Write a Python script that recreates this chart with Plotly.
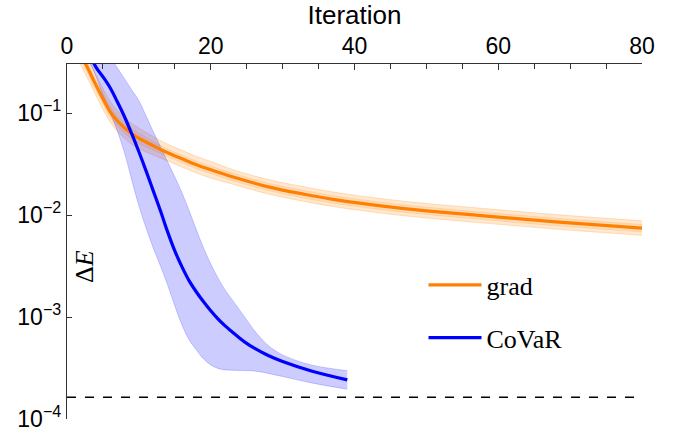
import plotly.graph_objects as go

# ---- data ----
grad_iter = [1, 2, 3, 4, 5, 6, 7, 8, 9, 10, 12, 14, 16, 18, 20, 23, 28, 33, 37, 42, 46, 50, 58, 68, 80]
grad_mean = [0.52, 0.365, 0.266, 0.19, 0.138, 0.103, 0.084, 0.0717, 0.0627, 0.0566, 0.0478, 0.0408, 0.0356,
             0.0311, 0.0278, 0.0237, 0.0189, 0.0160, 0.01426, 0.01273, 0.01177, 0.0110, 0.00982, 0.00857,
             0.00743]
grad_hi = [0.655, 0.46, 0.335, 0.239, 0.174, 0.130, 0.106, 0.0903, 0.079, 0.0713, 0.0588, 0.0494, 0.0431,
           0.0376, 0.0336, 0.028, 0.0223, 0.0189, 0.01683, 0.01502, 0.01389, 0.01298, 0.01159, 0.01011,
           0.00877]
grad_lo = [0.411, 0.288, 0.21, 0.150, 0.109, 0.0814, 0.0664, 0.0566, 0.0495, 0.0447, 0.0387, 0.0339, 0.0295,
           0.0258, 0.0231, 0.0201, 0.0161, 0.0136, 0.01212, 0.01082, 0.0100, 0.00935, 0.00835, 0.00728,
           0.00632]
grad_hi_in = [0.582, 0.409, 0.298, 0.213, 0.155, 0.115, 0.094, 0.0803, 0.0702, 0.0634, 0.0525, 0.0443,
              0.0386, 0.0337, 0.0302, 0.0257, 0.0205, 0.0174, 0.01547, 0.01381, 0.01277, 0.01194, 0.01065,
              0.0093, 0.00806]
grad_lo_in = [0.463, 0.325, 0.237, 0.169, 0.123, 0.0917, 0.0748, 0.0638, 0.0558, 0.0504, 0.0435, 0.0375,
              0.0328, 0.0286, 0.0256, 0.0218, 0.0174, 0.0147, 0.01312, 0.01171, 0.01083, 0.01012, 0.00903,
              0.00788, 0.00684]

covar_iter = [3, 4, 5, 6, 7, 8, 9, 10, 11, 12, 13, 14, 15, 16, 17, 18, 19, 20, 21, 22, 23, 24, 25, 26,
              27, 28, 30, 34, 39]
covar_mean = [0.40, 0.284, 0.227, 0.177, 0.129, 0.092, 0.0627, 0.0417, 0.0271, 0.01726, 0.0110, 0.00684,
              0.00445, 0.0031, 0.00226, 0.00176, 0.00141, 0.00115, 0.000957, 0.000818, 0.000714, 0.000624,
              0.000551, 0.000498, 0.000455, 0.00042, 0.000366, 0.000296, 0.000242]
covar_hi = [0.82, 0.628, 0.479, 0.357, 0.278, 0.217, 0.169, 0.132, 0.0941, 0.0655, 0.0467, 0.0333, 0.0237,
            0.01652, 0.0110, 0.00716, 0.00476, 0.00332, 0.00242, 0.001845, 0.001472, 0.001175, 0.000937,
            0.000748, 0.000617, 0.000526, 0.000425, 0.000339, 0.000298]
covar_lo = [0.33, 0.232, 0.148, 0.1007, 0.067, 0.0407, 0.0221, 0.0123, 0.00748, 0.00475, 0.00317, 0.00206,
            0.001285, 0.000836, 0.000595, 0.000475, 0.000388, 0.000339, 0.000313, 0.000303, 0.000301,
            0.000299, 0.000298, 0.000296, 0.000289, 0.00028, 0.000261, 0.000226, 0.000196]

exact_gap = 1.63e-4
x_extent = [0, 80]

x_ticks = [0, 20, 40, 60, 80]
y_ticks = [1e-4, 1e-3, 1e-2, 1e-1]
y_ticktext = ["10<sup>\u22124</sup>", "10<sup>\u22123</sup>", "10<sup>\u22122</sup>", "10<sup>\u22121</sup>"]

ORANGE = "#ff8000"
BLUE = "#0000ff"

fig = go.Figure()


def band(x, lo, hi, fill, edge):
    fig.add_trace(go.Scatter(x=x, y=lo, mode="lines", line=dict(color=edge, width=1, shape="spline"),
                             showlegend=False, hoverinfo="skip"))
    fig.add_trace(go.Scatter(x=x, y=hi, mode="lines", line=dict(color=edge, width=1, shape="spline"),
                             fill="tonexty", fillcolor=fill, showlegend=False, hoverinfo="skip"))


band(grad_iter, grad_lo, grad_hi, "rgba(255,140,20,0.20)", "rgba(255,140,20,0.25)")
band(grad_iter, grad_lo_in, grad_hi_in, "rgba(255,140,20,0.12)", "rgba(255,140,20,0.2)")
band(covar_iter, covar_lo, covar_hi, "rgba(0,0,255,0.2)", "rgba(0,0,255,0.18)")

fig.add_trace(go.Scatter(x=x_extent, y=[exact_gap, exact_gap], mode="lines", showlegend=False,
                         line=dict(color="black", width=1.5, dash="9px,9px"), hoverinfo="skip"))

fig.add_trace(go.Scatter(x=grad_iter, y=grad_mean, mode="lines", name="grad",
                         line=dict(color=ORANGE, width=3.2, shape="spline"), legendgroup="g"))
fig.add_trace(go.Scatter(x=covar_iter, y=covar_mean, mode="lines", name="CoVaR",
                         line=dict(color=BLUE, width=3.2, shape="spline"), legendgroup="c"))

fig.add_annotation(text="\u0394<i>E</i>", xref="paper", yref="paper", x=0.035, y=0.43,
                   xshift=-19, showarrow=False, textangle=-90,
                   font=dict(family="Liberation Serif", size=26, color="black"))

fig.update_layout(
    width=678, height=435,
    margin=dict(l=67, r=36, t=64, b=16, pad=0),
    plot_bgcolor="white", paper_bgcolor="white",
    font=dict(family="Liberation Sans", color="black"),
    legend=dict(x=0.62, y=0.444, xanchor="left", yanchor="top", bgcolor="rgba(0,0,0,0)",
                font=dict(family="Liberation Serif", size=26, color="black"),
                tracegroupgap=16, itemwidth=53),
    xaxis=dict(side="top", range=[0, 80], tickvals=x_ticks, ticks="inside", ticklen=6,
               tickwidth=1.2, tickcolor="#333", showline=True, linecolor="#333", linewidth=1.3,
               showgrid=False, zeroline=False, tickfont=dict(size=23),
               minor=dict(dtick=5, ticks="inside", ticklen=5, tickcolor="#333", tickwidth=1.1),
               title=dict(text="Iteration", font=dict(size=26), standoff=2), automargin=False),
    yaxis=dict(type="log", range=[-4, -0.519], tickvals=y_ticks, ticktext=y_ticktext,
               ticks="inside", ticklen=5, tickwidth=1.2, tickcolor="#333", showline=True,
               linecolor="#333", linewidth=1.3, showgrid=False, zeroline=False,
               tickfont=dict(size=23), automargin=False),
)

fig.write_html("out.html")
